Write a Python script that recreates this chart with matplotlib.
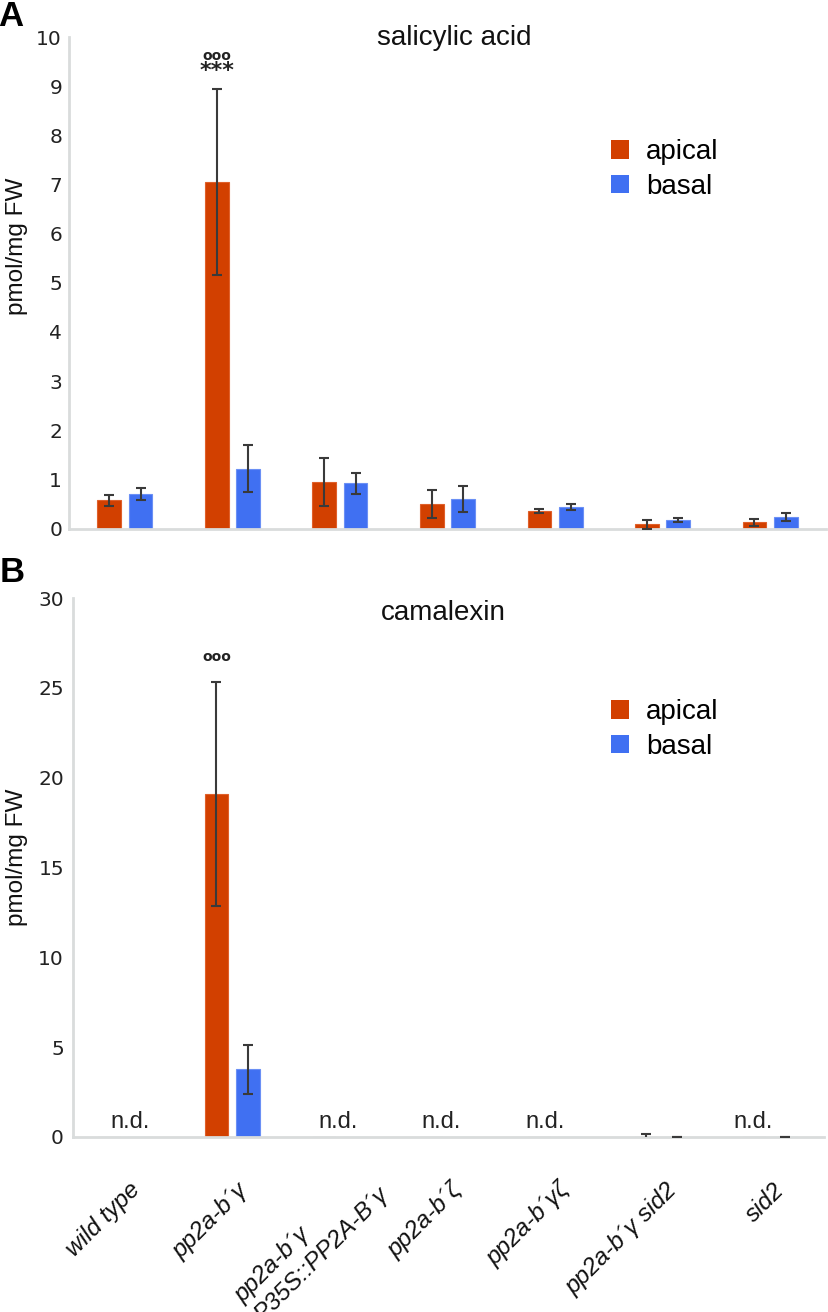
import matplotlib
matplotlib.use("Agg")
import matplotlib.pyplot as plt
import numpy as np
from matplotlib.patches import Patch

# ---------------- data ----------------
genotypes = ["wild type", "pp2a-b\u00b4\u03b3", "pp2a-b\u00b4\u03b3\nP35S::PP2A-B\u00b4\u03b3",
             "pp2a-b\u00b4\u03b6", "pp2a-b\u00b4\u03b3\u03b6", "pp2a-b\u00b4\u03b3 sid2", "sid2"]
series = ["apical", "basal"]

sa_apical = [0.57, 7.05, 0.95, 0.50, 0.36, 0.09, 0.13]
sa_apical_err = [0.12, 1.90, 0.49, 0.29, 0.035, 0.09, 0.07]
sa_basal = [0.70, 1.22, 0.92, 0.60, 0.44, 0.17, 0.23]
sa_basal_err = [0.12, 0.48, 0.21, 0.26, 0.055, 0.04, 0.08]

cam_apical = [np.nan, 19.1, np.nan, np.nan, np.nan, 0.0, np.nan]
cam_apical_err = [np.nan, 6.25, np.nan, np.nan, np.nan, 0.15, np.nan]
cam_basal = [np.nan, 3.77, np.nan, np.nan, np.nan, 0.0, 0.0]
cam_basal_err = [np.nan, 1.37, np.nan, np.nan, np.nan, 0.0, 0.0]
cam_nd = [0, 2, 3, 4, 6]  # indices with "n.d."

sa_ticks = list(range(0, 11))
cam_ticks = [0, 5, 10, 15, 20, 25, 30]

# ---------------- style ----------------
C_AP = "#D24000"
C_BA = "#4070F2"
C_ERR = "#3a3a3a"
C_AX = "#d9dcdc"
W, H = 829, 1312
fig = plt.figure(figsize=(W / 100, H / 100), dpi=100)

SANS = ["Liberation Sans", "DejaVu Sans"]
NARROW = ["Liberation Sans Narrow", "Liberation Sans", "DejaVu Sans"]


def fx(px):
    return px / W


def fy(py):
    return 1 - py / H


def make_axes(left, right, top, bottom):
    return fig.add_axes([fx(left), fy(bottom), fx(right) - fx(left), fy(top) - fy(bottom)])


bw = 0.222
off = 0.145
x = np.arange(len(genotypes))


def style_axes(ax, ticks, xlim, ylim, pad):
    ax.set_xlim(*xlim)
    ax.set_ylim(*ylim)
    for s in ["top", "right"]:
        ax.spines[s].set_visible(False)
    for s in ["left", "bottom"]:
        ax.spines[s].set_color(C_AX)
        ax.spines[s].set_linewidth(2.0)
    ax.set_yticks(ticks)
    ax.set_yticklabels([str(t) for t in ticks], fontsize=14.5, color="#222222",
                       family="DejaVu Sans")
    ax.tick_params(axis="y", length=0, pad=pad)
    ax.set_xticks([])
    ax.patch.set_alpha(0)


def draw_bars(ax, ap, ap_err, ba, ba_err):
    ap = np.array(ap, float); ba = np.array(ba, float)
    ax.bar(x - off, np.nan_to_num(ap), bw, color=C_AP, edgecolor="#e0602a", linewidth=0.8, zorder=2)
    ax.bar(x + off, np.nan_to_num(ba), bw, color=C_BA, edgecolor="#6b90f5", linewidth=0.8, zorder=2)
    ax.errorbar(x - off, ap, yerr=np.array(ap_err, float), fmt="none", ecolor=C_ERR,
                elinewidth=1.5, capsize=3.5, capthick=1.5, zorder=3)
    ax.errorbar(x + off, ba, yerr=np.array(ba_err, float), fmt="none", ecolor=C_ERR,
                elinewidth=1.5, capsize=3.5, capthick=1.5, zorder=3)


def legend(ax, top_px):
    handles = [Patch(facecolor=C_AP, edgecolor="none"), Patch(facecolor=C_BA, edgecolor="none")]
    ax.legend(handles, series, loc="upper left", bbox_to_anchor=(fx(611), fy(top_px)),
              bbox_transform=fig.transFigure, frameon=False, borderpad=0, borderaxespad=0,
              handlelength=0.65, handleheight=0.65, handletextpad=0.6, labelspacing=0.32,
              prop={"family": SANS, "size": 20})


# ---------------- panel A ----------------
axA = make_axes(69, 826, 37.2, 528.5)
style_axes(axA, sa_ticks, (-0.52, 6.52), (0, 10), 5)
draw_bars(axA, sa_apical, sa_apical_err, sa_basal, sa_basal_err)
axA.text(1 - off, 9.32, "***", ha="center", va="center", fontsize=16, fontweight="bold",
         family="DejaVu Sans", color="#222222")
axA.text(1 - off, 9.62, "ooo", ha="center", va="center", fontsize=10, fontweight="bold",
         family="DejaVu Sans", color="#222222")
legend(axA, 139)
fig.text(fx(454), fy(38), "salicylic acid", ha="center", va="center", fontsize=20,
         family=SANS, color="#111111")
fig.text(fx(17.5), fy(246), "pmol/mg FW", rotation=90, ha="center", va="center",
         fontsize=17.5, family=SANS, color="#111111")
fig.text(fx(11), fy(17), "A", ha="center", va="center", fontsize=25, fontweight="bold",
         family=SANS)

# ---------------- panel B ----------------
axB = make_axes(73, 824, 598, 1137)
style_axes(axB, cam_ticks, (-0.48, 6.51), (0, 30), 6.5)
draw_bars(axB, cam_apical, cam_apical_err, cam_basal, cam_basal_err)
axB.text(1 - off, 26.7, "ooo", ha="center", va="center", fontsize=10, fontweight="bold",
         family="DejaVu Sans", color="#222222")
for i in cam_nd:
    axB.text(0.05 + 0.967 * i, 0.85, "n.d.", ha="center", va="center", fontsize=17,
             family=NARROW, color="#222222")
legend(axB, 699)
fig.text(fx(443), fy(613), "camalexin", ha="center", va="center", fontsize=20,
         family=SANS, color="#111111")
fig.text(fx(17.5), fy(857), "pmol/mg FW", rotation=90, ha="center", va="center",
         fontsize=17.5, family=SANS, color="#111111")
fig.text(fx(12), fy(573), "B", ha="center", va="center", fontsize=25, fontweight="bold",
         family=SANS)

for i, lab in enumerate(genotypes):
    extra = lab.count("\n")
    axB.text(i + 0.11 + 0.22 * extra, -0.092 + 0.009 * extra, lab,
             transform=axB.get_xaxis_transform(), rotation=45,
             rotation_mode="anchor", ha="right", va="center", multialignment="left",
             fontsize=17.5, style="italic", family=NARROW, color="#111111",
             linespacing=1.25)

fig.savefig("out.png", dpi=100)
